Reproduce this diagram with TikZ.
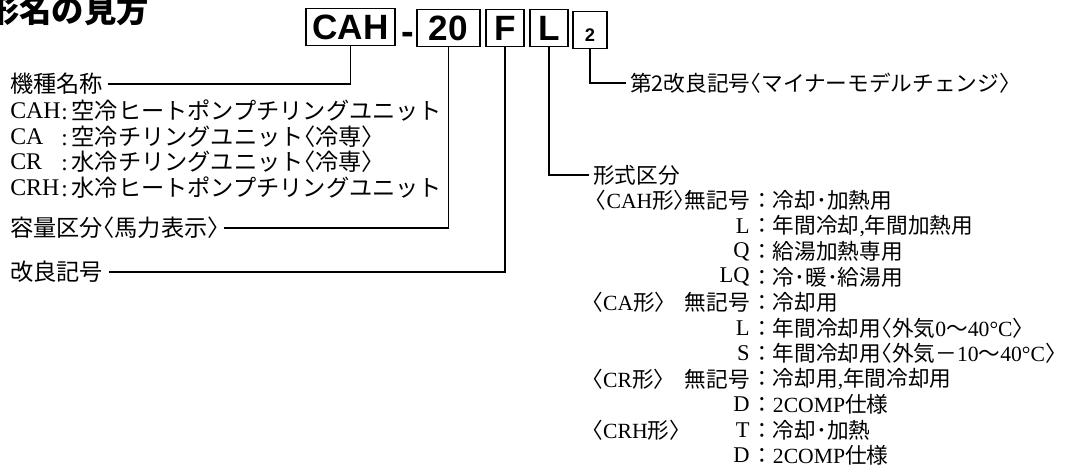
\documentclass[tikz,border=0pt]{standalone}
\usepackage{fontspec}
\setmainfont{Liberation Serif}
\setsansfont{Liberation Sans}
\newfontfamily\jp{Noto Sans CJK JP}
\newcommand\lbk{\makebox[0.5em][r]{〈}}
\newcommand\rbk{\makebox[0.5em][l]{〉}}

\begin{document}
\begin{tikzpicture}[x=0.025cm, y=-0.025cm,
  every node/.style={inner sep=0pt},
  ltxt/.style={anchor=west, font=\jp\fontsize{16.5}{20}\selectfont},
  lab/.style={anchor=west, font=\jp\fontsize{16.5}{20}\selectfont},
  rtxt/.style={anchor=west, font=\jp\fontsize{15.4}{19}\selectfont},
  codetxt/.style={anchor=east, font=\fontsize{16}{19}\selectfont},
  keybox/.style={draw, line width=1.3pt, minimum height=0.925cm,
    font=\sffamily\bfseries\fontsize{25}{28}\selectfont},
  conn/.style={line width=1pt}]
\useasboundingbox (0,0) rectangle (1070,472);

\node (title) [anchor=west, font=\jp\bfseries\fontsize{23}{28}\selectfont] at (-13,10) {形名の見方};

\node (kcah) [keybox, minimum width=2.225cm] at (350.5,27) {CAH};
\node (dash) [font=\sffamily\bfseries\fontsize{27}{28}\selectfont] at (408,38) {-};
\node (k20) [keybox, minimum width=1.575cm] at (448.5,28) {20};
\node (kf) [keybox, minimum width=0.95cm] at (505,28) {F};
\node (kl) [keybox, minimum width=0.95cm] at (549,28) {L};
\node (k2) [keybox, minimum width=0.85cm,
  font=\sffamily\bfseries\fontsize{13}{15}\selectfont] at (590,30) {\raisebox{-8pt}[0pt][0pt]{2}};

\node (kishu) [lab] at (10,84) {機種名称};
\node (ncah) [codetxt, anchor=west, font=\fontsize{17}{20}\selectfont] at (10,111) {CAH};
\node (dcah) [ltxt] at (61,111) {{\rmfamily:}\,空冷ヒートポンプチリングユニット};
\node (nca) [codetxt, anchor=west, font=\fontsize{17}{20}\selectfont] at (10,136.5) {CA};
\node (dca) [ltxt] at (61,136.5) {{\rmfamily:}\,空冷チリングユニット\lbk 冷専\rbk};
\node (ncr) [codetxt, anchor=west, font=\fontsize{17}{20}\selectfont] at (10,162) {CR};
\node (dcr) [ltxt] at (61,162) {{\rmfamily:}\,水冷チリングユニット\lbk 冷専\rbk};
\node (ncrh) [codetxt, anchor=west, font=\fontsize{17}{20}\selectfont] at (10,187.5) {CRH};
\node (dcrh) [ltxt] at (61,187.5) {{\rmfamily:}\,水冷ヒートポンプチリングユニット};
\node (youryou) [lab] at (10,228) {容量区分\lbk 馬力表示\rbk};
\node (kairyou) [lab] at (10,272) {改良記号};

\node (dai2) [rtxt] at (630,83) {第2改良記号\lbk マイナーモデルチェンジ\rbk};
\node (keishiki) [rtxt] at (593,175) {形式区分};

\node (gcah) [rtxt, anchor=east] at (750,200.5) {\lbk{\rmfamily CAH}形\rbk 無記号};
\node (dcah2) [rtxt] at (751,200.5) {：冷却･加熱用};
\node (cl) [codetxt] at (750,226) {L};
\node (dl) [rtxt] at (751,226) {：年間冷却{\rmfamily ,}年間加熱用};
\node (cq) [codetxt] at (750,251.5) {Q};
\node (dq) [rtxt] at (751,251.5) {：給湯加熱専用};
\node (clq) [codetxt] at (750,277) {LQ};
\node (dlq) [rtxt] at (751,277) {：冷･暖･給湯用};
\node (gca) [rtxt] at (592,302.5) {\lbk{\rmfamily CA}形\rbk};
\node (nca2) [rtxt, anchor=east] at (750,302.5) {無記号};
\node (dca2) [rtxt] at (751,302.5) {：冷却用};
\node (cl2) [codetxt] at (750,328) {L};
\node (dl2) [rtxt] at (751,328) {：年間冷却用\lbk 外気{\rmfamily 0}～{\rmfamily 40°C}\rbk};
\node (cs) [codetxt] at (750,353.5) {S};
\node (ds) [rtxt] at (751,353.5) {：年間冷却用\lbk 外気－{\rmfamily 10}～{\rmfamily 40°C}\rbk};
\node (gcr) [rtxt] at (592,379) {\lbk{\rmfamily CR}形\rbk};
\node (ncr2) [rtxt, anchor=east] at (750,379) {無記号};
\node (dcr2) [rtxt] at (751,379) {：冷却用{\rmfamily ,}年間冷却用};
\node (cd) [codetxt] at (750,404.5) {D};
\node (dd) [rtxt] at (751,404.5) {：{\rmfamily 2COMP}仕様};
\node (gcrh) [rtxt] at (592,430) {\lbk{\rmfamily CRH}形\rbk};
\node (ct) [codetxt] at (750,430) {T};
\node (dt) [rtxt] at (751,430) {：冷却･加熱};
\node (cd2) [codetxt] at (750,455.5) {D};
\node (dd2) [rtxt] at (751,455.5) {：{\rmfamily 2COMP}仕様};

\draw[conn] (kcah.south) |- ([xshift=3pt]kishu.east);
\draw[conn] (k20.south) |- ([xshift=3pt]youryou.east);
\draw[conn] (kf.south) |- ([xshift=4pt]kairyou.east);
\draw[conn] (kl.south) |- ([xshift=-3pt]keishiki.west);
\draw[conn] (k2.south) |- ([xshift=-3pt]dai2.west);
\end{tikzpicture}
\end{document}
